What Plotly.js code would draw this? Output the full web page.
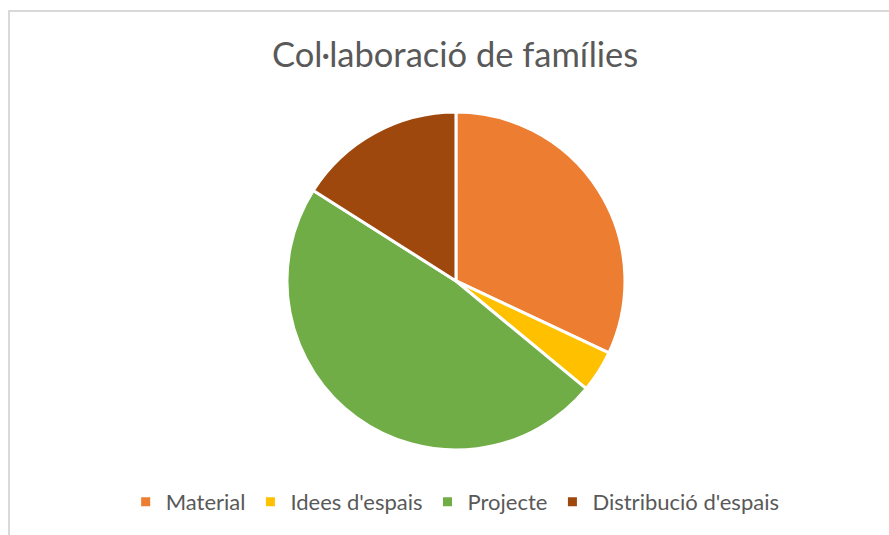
<!DOCTYPE html>
<html>
<head>
<meta charset="utf-8">
<script src="https://cdn.plot.ly/plotly-3.0.1.min.js"></script>
<style>
  html, body { margin: 0; padding: 0; background: #fff; }
  #wrap { position: relative; width: 889px; height: 535px; overflow: hidden; }
  #frame { position: absolute; left: 8px; top: 10px; width: 900px; height: 600px;
           border-left: 2px solid #d9d9d9; border-top: 2px solid #d9d9d9; pointer-events: none; }
  #chart { position: absolute; left: 0; top: 0; width: 889px; height: 535px; }
</style>
</head>
<body>
<div id="wrap">
  <div id="chart"></div>
  <div id="frame"></div>
</div>
<script>
// Col·laboració de famílies
const labels = ['Material', "Idees d'espais", 'Projecte', "Distribució d'espais"];
const values = [8, 1, 12, 4];
const colors = ['#ED7D31', '#FFC000', '#70AD47', '#9E480E'];

const trace = {
  type: 'pie',
  labels: labels,
  values: values,
  sort: false,
  direction: 'clockwise',
  rotation: 0,
  textinfo: 'none',
  hoverinfo: 'label+value+percent',
  marker: { colors: colors, line: { color: '#ffffff', width: 3 } },
  domain: { x: [0.3228, 0.7030], y: [0.1589, 0.7907] }
};

const layout = {
  width: 889, height: 535,
  margin: { l: 0, r: 0, t: 0, b: 0 },
  paper_bgcolor: 'rgba(0,0,0,0)',
  font: { family: 'Lato, "Open Sans", sans-serif', color: '#595959' },
  title: {
    text: 'Col·laboració de famílies',
    font: { size: 34.5, color: '#595959', family: 'Lato, "Open Sans", sans-serif' },
    x: 0.512, xanchor: 'center', y: 0.897, yanchor: 'middle'
  },
  showlegend: true,
  legend: {
    orientation: 'h', x: 0.512, xanchor: 'center', y: 0.062, yanchor: 'middle',
    font: { size: 22, color: '#595959' }, itemwidth: 30, traceorder: 'normal'
  }
};

Plotly.newPlot('chart', [trace], layout, { displayModeBar: false, staticPlot: true });
</script>
</body>
</html>
